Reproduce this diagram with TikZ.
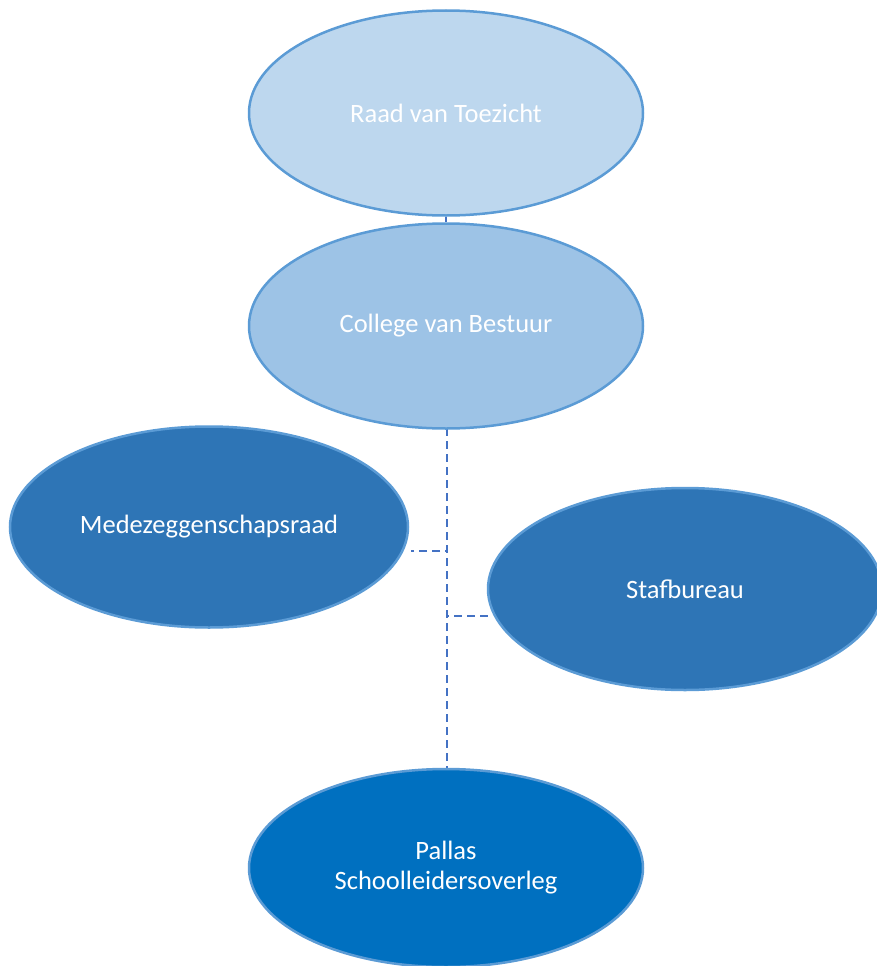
\documentclass[tikz,border=0pt]{standalone}
\usepackage{fontspec}
\setmainfont{Carlito}
\usetikzlibrary{shapes.geometric}

\definecolor{rvtfill}{HTML}{BDD7EE}
\definecolor{cvbfill}{HTML}{9DC3E6}
\definecolor{midfill}{HTML}{2E75B6}
\definecolor{psofill}{HTML}{0070C0}
\definecolor{rim}{HTML}{5B9BD5}
\definecolor{link}{HTML}{4472C4}

\begin{document}
\begin{tikzpicture}[x=1pt, y=-1pt,
    orgel/.style={ellipse, draw=rim, line width=2.5pt, minimum width=394pt,
      minimum height=205pt, inner sep=0pt, text=white, align=center,
      font=\fontsize{26.5}{30}\selectfont},
    solidlink/.style={draw=link, line width=2pt},
    dashlink/.style={draw=link, line width=2pt, dash pattern=on 8pt off 5pt}]
  \useasboundingbox (0,0) rectangle (877,966);
  % lijnen eerst, ellipsen erover
  \coordinate (cvbbot) at (447,428);
  \coordinate (mrknik) at (447,551);
  \coordinate (mrend) at (411,551);
  \coordinate (sbknik) at (447,616);
  \coordinate (sbend) at (491,616);
  \coordinate (psotop) at (447,771);
  \draw[dashlink] (cvbbot) -- (mrknik) -- (mrend);
  \draw[dashlink] (cvbbot) -- (sbknik) -- (sbend);
  \draw[dashlink] (cvbbot) -- (psotop);
  \node[orgel, fill=rvtfill] (rvt) at (446,113) {Raad van Toezicht};
  \node[orgel, fill=cvbfill] (cvb) at (446,326) {College van Bestuur};
  \node[orgel, fill=midfill, minimum width=398pt, minimum height=201pt] (mr) at (209,527) {Medezeggenschapsraad};
  \node[orgel, fill=midfill, minimum height=202pt] (sb) at (685,589) {Stafbureau};
  \node[orgel, fill=psofill, minimum height=198pt] (pso) at (446,868) {Pallas\\Schoolleidersoverleg};
  \draw[solidlink] (rvt.south) -- (cvb.north);
\end{tikzpicture}
\end{document}
